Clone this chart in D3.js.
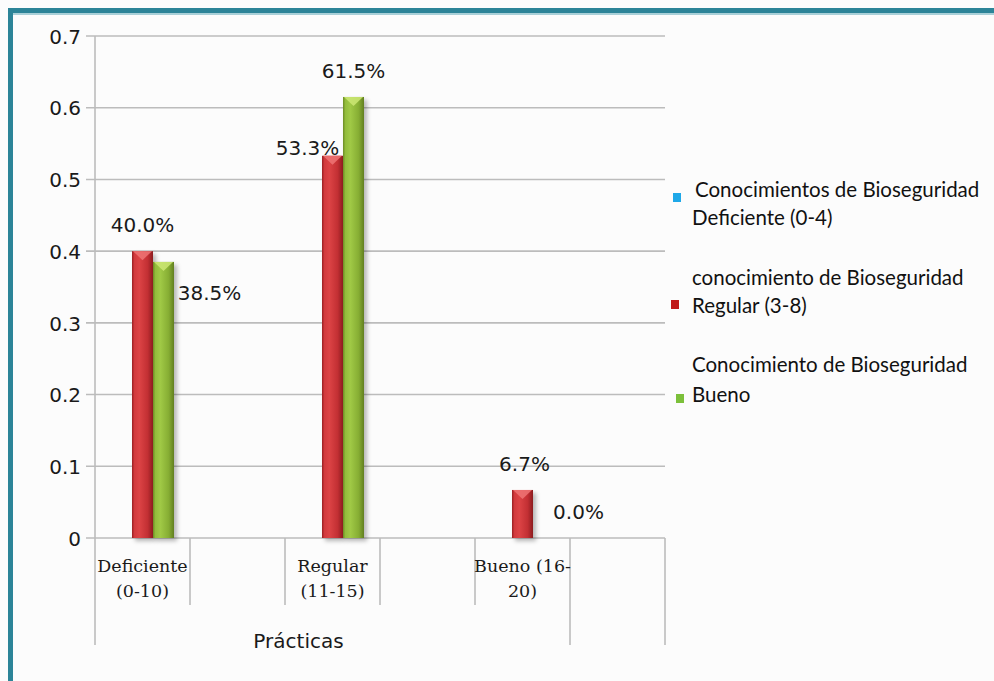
<!DOCTYPE html>
<html>
<head>
<meta charset="utf-8">
<script src="https://cdn.jsdelivr.net/npm/d3@7"></script>
<style>
  body { margin: 0; background: #fcfcfc; }
  svg { display: block; }
</style>
</head>
<body>
<div class="chart"></div>
<script>
// data
const categories = [["Deficiente", "(0-10)"], [], ["Regular", "(11-15)"], [], ["Bueno (16-", "20)"], []];
const series = ["Conocimientos de Bioseguridad Deficiente (0-4)", "conocimiento de Bioseguridad Regular (3-8)", "Conocimiento de Bioseguridad Bueno"];
const deficienteVals = [null, null, null, null, null, null];
const regularVals = [0.400, null, 0.533, null, 0.067, null];
const buenoVals = [0.385, null, 0.615, null, 0.000, null];
const yTicks = [0, 0.1, 0.2, 0.3, 0.4, 0.5, 0.6, 0.7];
const axisTitle = "Prácticas";
const legendLines = [
  ["Conocimientos de Bioseguridad", "Deficiente (0-4)"],
  ["conocimiento de Bioseguridad", "Regular (3-8)"],
  ["Conocimiento de Bioseguridad", "Bueno"]
];

const width = 994, height = 681;
const plotLeft = 95, plotRight = 665, plotTop = 36, plotBottom = 538;

const svg = d3.select('.chart').append('svg')
  .attr('width', width)
  .attr('height', height)

svg.append('rect').attr('width', width).attr('height', height).attr('fill', '#fcfcfc')
// frame
svg.append('rect').attr('x', 8).attr('y', 8).attr('width', width - 8).attr('height', 5).attr('fill', '#2c8498')
svg.append('rect').attr('x', 13).attr('y', 13).attr('width', width - 13).attr('height', 2).attr('fill', '#a9d0d8')
svg.append('rect').attr('x', 8).attr('y', 8).attr('width', 5).attr('height', height - 8).attr('fill', '#2c8498')

const defs = svg.append('defs')
function grad(id, stops) {
  const g = defs.append('linearGradient').attr('id', id).attr('x1', 0).attr('x2', 1).attr('y1', 0).attr('y2', 0)
  stops.forEach(s => g.append('stop').attr('offset', s[0]).attr('stop-color', s[1]))
}
grad('g-red', [[0, '#9a1f22'], [0.12, '#d23a3d'], [0.35, '#dc4345'], [0.75, '#c22f33'], [1, '#8c1c1f']])
grad('g-green', [[0, '#6d8c25'], [0.12, '#93bd3c'], [0.35, '#a0c946'], [0.75, '#86ad33'], [1, '#627f20']])
grad('g-blue', [[0, '#1a8cc8'], [0.5, '#27b0ef'], [1, '#1a8cc8']])
const blur = defs.append('filter').attr('id', 'shadow').attr('x', '-50%').attr('y', '-5%').attr('width', '200%').attr('height', '115%')
blur.append('feGaussianBlur').attr('stdDeviation', 2)

const y = d3.scaleLinear().domain([0, 0.7]).range([plotBottom, plotTop])
const x0 = d3.scaleBand().domain(d3.range(categories.length)).range([plotLeft, plotRight])
const x1 = d3.scaleBand().domain(d3.range(series.length)).range([16, 79])

// grid
svg.append('g')
  .selectAll('line')
  .data(yTicks)
  .enter()
  .append('line')
  .attr('x1', plotLeft - 9).attr('x2', plotRight)
  .attr('y1', d => y(d)).attr('y2', d => y(d))
  .attr('stroke', '#bcbcbc').attr('stroke-width', 1.6)

const yAxis = svg.append('g')
  .attr('transform', `translate(${plotLeft - 14},0)`)
  .call(d3.axisLeft(y).tickValues(yTicks).tickSize(0).tickPadding(0).tickFormat(d => d === 0 ? '0' : d.toFixed(1)))
yAxis.select('.domain').remove()
yAxis.selectAll('text')
  .style('font-family', 'DejaVu Sans')
  .style('font-size', '20px')
  .attr('fill', '#1a1a1a')
  .attr('dy', '0.36em')

// vertical axis line
svg.append('line').attr('x1', plotLeft).attr('x2', plotLeft).attr('y1', plotTop).attr('y2', 645)
  .attr('stroke', '#bcbcbc').attr('stroke-width', 1.6)

// category separators
const bounds = d3.range(categories.length + 1)
svg.append('g')
  .selectAll('line')
  .data(bounds.slice(1))
  .enter()
  .append('line')
  .attr('x1', i => plotLeft + i * x0.bandwidth())
  .attr('x2', i => plotLeft + i * x0.bandwidth())
  .attr('y1', plotBottom)
  .attr('y2', i => i >= 5 ? 645 : 605)
  .attr('stroke', '#bcbcbc').attr('stroke-width', 1.6)

// category labels
const catG = svg.append('g')
categories.forEach((lines, i) => {
  lines.forEach((t, k) => {
    catG.append('text')
      .attr('x', x0(i) + x0.bandwidth() / 2)
      .attr('y', 572 + k * 25)
      .attr('text-anchor', 'middle')
      .style('font-family', 'DejaVu Serif')
      .style('font-size', '17.5px')
      .attr('fill', '#1a1a1a')
      .text(t)
  })
})

svg.append('text')
  .attr('x', (plotLeft + x0(5)) / 2 - 34)
  .attr('y', 648)
  .attr('text-anchor', 'middle')
  .style('font-family', 'DejaVu Sans')
  .style('font-size', '20px')
  .attr('fill', '#1a1a1a')
  .text(axisTitle)

// bars
const seriesVals = [deficienteVals, regularVals, buenoVals]
const fills = ['url(#g-blue)', 'url(#g-red)', 'url(#g-green)']
const caps = ['#7fd3f7', '#ee7474', '#cde874']
const bars = []
seriesVals.forEach((vals, s) => vals.forEach((v, i) => { if (v !== null) bars.push({ s, i, v }) }))

const barW = x1.bandwidth()
const barG = svg.append('g')
barG.selectAll('.shadow')
  .data(bars.filter(d => d.v > 0))
  .enter()
  .append('rect')
  .attr('x', d => x0(d.i) + x1(d.s) + 3)
  .attr('y', d => y(d.v) + 3)
  .attr('width', barW)
  .attr('height', d => plotBottom - y(d.v))
  .attr('fill', 'rgba(0,0,0,0.28)')
  .attr('filter', 'url(#shadow)')
barG.selectAll('.bar')
  .data(bars.filter(d => d.v > 0))
  .enter()
  .append('rect')
  .attr('x', d => x0(d.i) + x1(d.s))
  .attr('y', d => y(d.v))
  .attr('width', barW)
  .attr('height', d => plotBottom - y(d.v))
  .attr('fill', d => fills[d.s])
barG.selectAll('.cap')
  .data(bars.filter(d => d.v > 0))
  .enter()
  .append('path')
  .attr('d', d => {
    const bx = x0(d.i) + x1(d.s), by = y(d.v)
    return `M${bx + 1},${by}L${bx + barW - 1},${by}L${bx + barW / 2},${by + 9}Z`
  })
  .attr('fill', d => caps[d.s])
  .attr('opacity', 0.85)

// data labels (offset from bar top)
const labelOffsets = { '1-0': [0, -26], '2-0': [46, 31], '1-2': [-25, -8], '2-2': [0, -26], '1-4': [2, -26], '2-4': [35, -26] }
svg.append('g')
  .selectAll('text')
  .data(bars)
  .enter()
  .append('text')
  .attr('x', d => x0(d.i) + x1(d.s) + barW / 2 + labelOffsets[d.s + '-' + d.i][0])
  .attr('y', d => y(d.v) + labelOffsets[d.s + '-' + d.i][1])
  .attr('dy', '0.36em')
  .attr('text-anchor', 'middle')
  .style('font-family', 'DejaVu Sans')
  .style('font-size', '20px')
  .attr('fill', '#1a1a1a')
  .text(d => (d.v * 100).toFixed(1) + '%')

// legend
const legendPos = [
  { sx: 673, sy: 193, tx: [695, 692], ty: [197, 225] },
  { sx: 671, sy: 300, tx: [692, 692], ty: [285, 313] },
  { sx: 676, sy: 394, tx: [692, 692], ty: [372, 402] }
]
const legendColors = ['#1fa8e8', '#c01a1a', '#7cc03a']
const lg = svg.append('g')
legendLines.forEach((lines, s) => {
  const p = legendPos[s]
  lg.append('rect').attr('x', p.sx).attr('y', p.sy).attr('width', 8).attr('height', 9).attr('fill', legendColors[s])
  lines.forEach((t, k) => {
    lg.append('text')
      .attr('x', p.tx[k]).attr('y', p.ty[k])
      .style('font-family', 'Lato')
      .style('font-size', '20.5px')
      .attr('fill', '#111')
      .text(t)
  })
})
</script>
</body>
</html>
